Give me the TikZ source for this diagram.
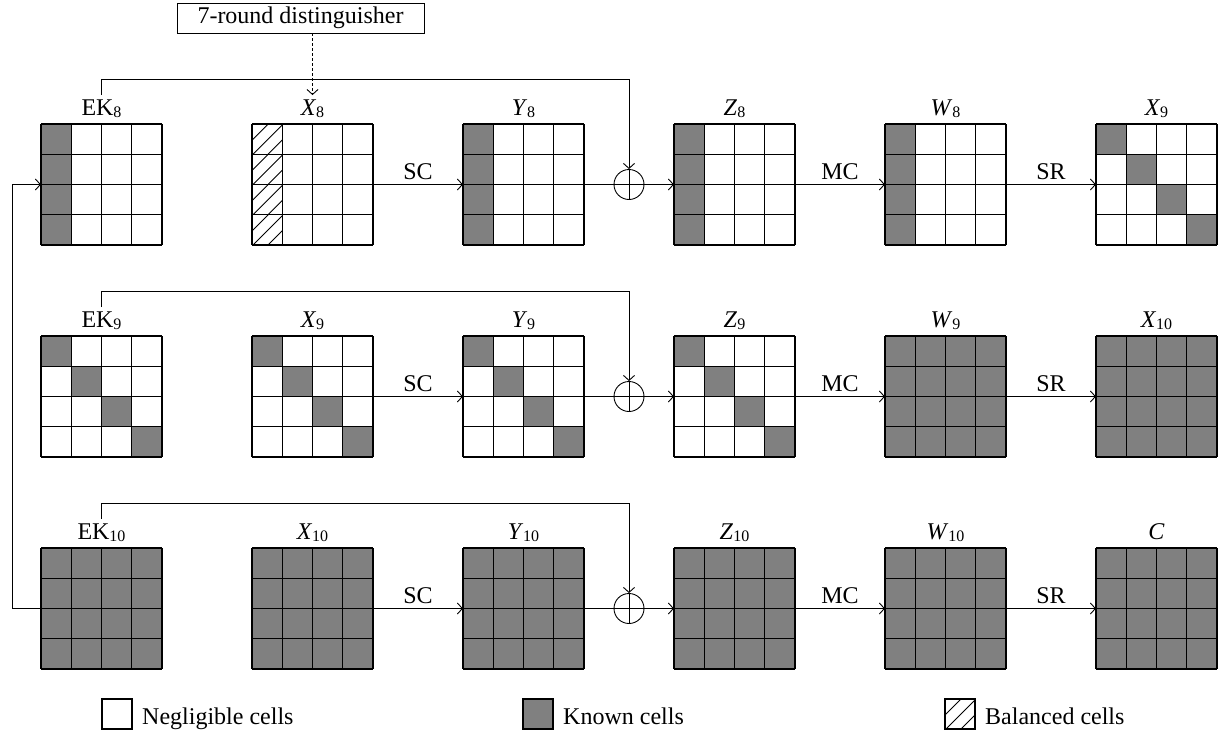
\documentclass[tikz,border=0pt]{standalone}
\usepackage{fontspec}
\setmainfont{Liberation Serif}
\usetikzlibrary{arrows.meta,calc}

\definecolor{knowngray}{RGB}{128,128,128}

% subscript set a little below the baseline
\newcommand{\sbs}[1]{\raisebox{-0.12em}{\fontsize{16}{16}\selectfont #1}}

% cell width of a 4x4 state
\def\cw{30.25}

% state node and its cells
\newcommand{\gridnode}[3]{%
  \node[gridbox, anchor=north west] (#1) at (#2,#3) {};}
\newcommand{\knowncells}[2]{%
  \foreach \c/\r in {#2} {\fill[knowngray] ($(#1.north west)+(\c*\cw,\r*\cw)$) rectangle ++(\cw,\cw);}}
\newcommand{\fullcells}[1]{%
  \fill[knowngray] (#1.north west) rectangle (#1.south east);}
\newcommand{\hatchcell}[3]{% origin node, column, row
  \begin{scope}
    \clip ($(#1.north west)+(#2*\cw,#3*\cw)$) rectangle ++(\cw,\cw);
    \foreach \o in {-14,1,16} {
      \draw[hatchline] ($(#1.north west)+(#2*\cw+\o,#3*\cw+\cw)$) -- ++(\cw,-\cw);}
  \end{scope}}
\newcommand{\gridlines}[1]{%
  \foreach \i in {0,...,4} {
    \draw[cellline] ($(#1.north west)+(\i*\cw,0)$) -- ++(0,4*\cw);
    \draw[cellline] ($(#1.north west)+(0,\i*\cw)$) -- ++(4*\cw,0);}}

\begin{document}
\begin{tikzpicture}[x=1pt,y=-1pt,
  every node/.style={font=\fontsize{24}{28}\selectfont},
  gridbox/.style={minimum width=121pt, minimum height=121pt, inner sep=0pt, outer sep=0pt},
  cellline/.style={line width=1.2pt},
  hatchline/.style={line width=0.9pt},
  tag/.style={inner xsep=0pt, inner ysep=4pt, anchor=base},
  conn/.style={line width=0.9pt},
  tip/.style={-{Straight Barb[length=5pt,width=11pt]}},
  oplabel/.style={midway, anchor=base, yshift=5pt, inner sep=0pt},
  xor/.style={circle, draw, line width=0.9pt, minimum size=30pt, inner sep=0pt,
    path picture={\draw[line width=0.9pt] (path picture bounding box.north) -- (path picture bounding box.south)
                                          (path picture bounding box.west) -- (path picture bounding box.east);}},
  legendbox/.style={minimum size=30pt, inner sep=0pt, outer sep=0pt, anchor=north west},
]
\useasboundingbox (0,0) rectangle (1219,736);

% ---------- round 8 ----------
\gridnode{ek8}{41}{124}   \knowncells{ek8}{0/0,0/1,0/2,0/3} \gridlines{ek8}
\gridnode{x8}{252}{124}
\foreach \r in {0,...,3} {\hatchcell{x8}{0}{\r}}
\gridlines{x8}
\gridnode{y8}{463}{124}   \knowncells{y8}{0/0,0/1,0/2,0/3} \gridlines{y8}
\gridnode{z8}{674}{124}   \knowncells{z8}{0/0,0/1,0/2,0/3} \gridlines{z8}
\gridnode{w8}{885}{124}   \knowncells{w8}{0/0,0/1,0/2,0/3} \gridlines{w8}
\gridnode{x9a}{1096}{124} \knowncells{x9a}{0/0,1/1,2/2,3/3} \gridlines{x9a}

% ---------- round 9 ----------
\gridnode{ek9}{41}{336}   \knowncells{ek9}{0/0,1/1,2/2,3/3} \gridlines{ek9}
\gridnode{x9}{252}{336}   \knowncells{x9}{0/0,1/1,2/2,3/3}  \gridlines{x9}
\gridnode{y9}{463}{336}   \knowncells{y9}{0/0,1/1,2/2,3/3}  \gridlines{y9}
\gridnode{z9}{674}{336}   \knowncells{z9}{0/0,1/1,2/2,3/3}  \gridlines{z9}
\gridnode{w9}{885}{336}   \fullcells{w9}   \gridlines{w9}
\gridnode{x10a}{1096}{336} \fullcells{x10a} \gridlines{x10a}

% ---------- round 10 ----------
\gridnode{ek10}{41}{548}  \fullcells{ek10} \gridlines{ek10}
\gridnode{x10}{252}{548}  \fullcells{x10}  \gridlines{x10}
\gridnode{y10}{463}{548}  \fullcells{y10}  \gridlines{y10}
\gridnode{z10}{674}{548}  \fullcells{z10}  \gridlines{z10}
\gridnode{w10}{885}{548}  \fullcells{w10}  \gridlines{w10}
\gridnode{c}{1096}{548}   \fullcells{c}    \gridlines{c}

% ---------- state names ----------
\foreach \n/\t in {ek8/{EK\sbs{8}}, x8/{\textit{X}\sbs{8}}, y8/{\textit{Y}\sbs{8}}, z8/{\textit{Z}\sbs{8}}, w8/{\textit{W}\sbs{8}}, x9a/{\textit{X}\sbs{9}},
                   ek9/{EK\sbs{9}}, x9/{\textit{X}\sbs{9}}, y9/{\textit{Y}\sbs{9}}, z9/{\textit{Z}\sbs{9}}, w9/{\textit{W}\sbs{9}}, x10a/{\textit{X}\sbs{10}},
                   ek10/{EK\sbs{10}}, x10/{\textit{X}\sbs{10}}, y10/{\textit{Y}\sbs{10}}, z10/{\textit{Z}\sbs{10}}, w10/{\textit{W}\sbs{10}}, c/{\textit{C}}}
  {\node[tag] (\n-t) at ($(\n.north)+(0,-9)$) {\t};}

% ---------- key additions ----------
\node[xor] (xor8) at ($(y8.east)!0.5!(z8.west)$) {};
\node[xor] (xor9) at ($(y9.east)!0.5!(z9.west)$) {};
\node[xor] (xor10) at ($(y10.east)!0.5!(z10.west)$) {};

% ---------- operations of each round ----------
\foreach \xa/\ya/\za/\wa/\xb/\o/\k in {x8/y8/z8/w8/x9a/xor8/ek8, x9/y9/z9/w9/x10a/xor9/ek9, x10/y10/z10/w10/c/xor10/ek10} {
  \draw[conn,tip] (\xa) -- node[oplabel] {SC} (\ya);
  \draw[conn] (\ya) -- (\o.west);
  \draw[conn,tip] (\o.east) -- (\za);
  \draw[conn,tip] (\za) -- node[oplabel] {MC} (\wa);
  \draw[conn,tip] (\wa) -- node[oplabel] {SR} (\xb);
  \draw[conn,tip] (\k-t.north) -- ++(0,-16) -| (\o.north);
}

% key feedback from the last round key to the first
\draw[conn,tip] (ek10.west) -- ++(-29,0) |- (ek8.west);

% distinguisher
\node[draw, line width=0.9pt, minimum width=247pt, minimum height=30pt, inner sep=0pt] (dist) at (300.5,18) {7-round distinguisher};
\draw[conn,tip,dash pattern=on 3pt off 2pt] (dist.south -| x8-t.north) -- (x8-t.north);

% ---------- legend ----------
\node[legendbox] (negbox) at (102,699) {};
\draw[cellline] (negbox.north west) rectangle (negbox.south east);
\node[anchor=base west, inner sep=0pt] (negtext) at ($(negbox.south east)+(10,-5)$) {Negligible cells};

\node[legendbox] (knownbox) at (523,699) {};
\fill[knowngray] (knownbox.north west) rectangle (knownbox.south east);
\draw[cellline] (knownbox.north west) rectangle (knownbox.south east);
\node[anchor=base west, inner sep=0pt] (knowntext) at ($(knownbox.south east)+(10,-5)$) {Known cells};

\node[legendbox] (balbox) at (945,699) {};
\begin{scope}
  \clip (balbox.north west) rectangle (balbox.south east);
  \foreach \o in {-14,1,16} {\draw[hatchline] ($(balbox.south west)+(\o,0)$) -- ++(30,-30);}
\end{scope}
\draw[cellline] (balbox.north west) rectangle (balbox.south east);
\node[anchor=base west, inner sep=0pt] (baltext) at ($(balbox.south east)+(10,-5)$) {Balanced cells};
\end{tikzpicture}
\end{document}
